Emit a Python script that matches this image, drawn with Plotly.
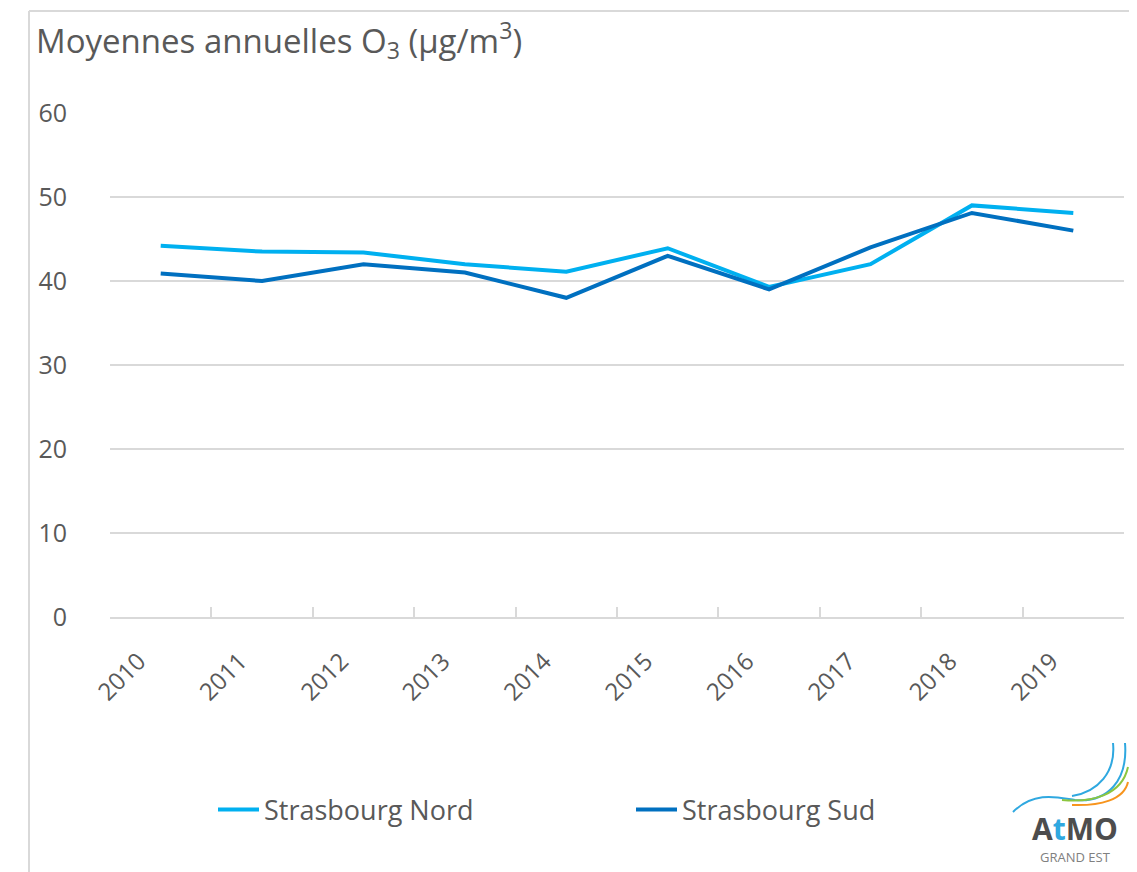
import plotly.graph_objects as go

years = ["2010", "2011", "2012", "2013", "2014", "2015", "2016", "2017", "2018", "2019"]
nord = [44.2, 43.5, 43.4, 42.0, 41.1, 43.9, 39.3, 42.0, 49.0, 48.1]
sud = [40.9, 40.0, 42.0, 41.0, 38.0, 43.0, 39.0, 44.0, 48.1, 46.0]
y_ticks = [0, 10, 20, 30, 40, 50, 60]

# page body has an 8px margin; work in reference pixel coords and shift
OFF = 8
W, H = 1137 - OFF, 872 - OFF
L, R, T, B = 110 - OFF, 13, 113 - OFF, 255
PW, PH = W - L - R, H - T - B


def px(x):
    return (x - OFF - L) / PW


def py(y):
    return (H - B - (y - OFF)) / PH


font_fam = "'Open Sans', sans-serif"
fig = go.Figure()
fig.add_trace(go.Scatter(x=years, y=nord, mode="lines", name="Strasbourg Nord",
                         line=dict(color="#00B0F0", width=4), legend="legend"))
fig.add_trace(go.Scatter(x=years, y=sud, mode="lines", name="Strasbourg Sud",
                         line=dict(color="#0070C0", width=4), legend="legend2"))

leg_common = dict(yanchor="middle", y=py(810), xanchor="left", bgcolor="rgba(0,0,0,0)",
                  itemwidth=41, font=dict(size=27, color="#595959", family=font_fam))

# rotated year labels, padded so their ends sit left of the category centre
tick_text = [y + "\u00a0" * 5 for y in years]

fig.update_layout(
    width=W, height=H,
    margin=dict(l=L, r=R, t=T, b=B),
    paper_bgcolor="white", plot_bgcolor="white",
    font=dict(family=font_fam, color="#595959", size=24),
    showlegend=True,
    legend=dict(x=px(213), **leg_common),
    legend2=dict(x=px(631), **leg_common),
    xaxis=dict(type="category", range=[-0.5, 9.5], tickson="boundaries",
               tickvals=years, ticktext=tick_text,
               ticks="inside", ticklen=10, tickcolor="#d9d9d9", tickwidth=1.5,
               showline=True, linecolor="#d9d9d9", linewidth=1.5,
               showgrid=False, tickangle=-45, ticklabelstandoff=-3,
               tickfont=dict(size=24, color="#595959")),
    yaxis=dict(range=[0, 60], tickvals=y_ticks, showgrid=True, gridcolor="#d9d9d9",
               gridwidth=1.5, zeroline=False, showline=False, ticks="",
               ticklabelstandoff=42, tickfont=dict(size=25, color="#595959")),
    title=dict(text="Moyennes annuelles O<sub>3</sub> (µg/m<sup>3</sup>)",
               x=(36 - OFF) / W, xanchor="left", xref="container",
               y=1 - (41 - OFF) / H, yanchor="middle", yref="container",
               font=dict(size=33, color="#595959", family=font_fam)),
)

# frame lines (left and top)
fig.add_shape(type="line", xref="paper", yref="paper", x0=px(29), x1=px(1137), y0=py(11), y1=py(11),
              line=dict(color="#d9d9d9", width=2))
fig.add_shape(type="line", xref="paper", yref="paper", x0=px(29), x1=px(29), y0=py(11), y1=py(872),
              line=dict(color="#d9d9d9", width=2))


# logo swooshes
def path(pts):
    s = "M {} {}".format(px(pts[0][0]), py(pts[0][1]))
    for i in range(1, len(pts), 3):
        a, b, c = pts[i], pts[i + 1], pts[i + 2]
        s += " C {} {}, {} {}, {} {}".format(px(a[0]), py(a[1]), px(b[0]), py(b[1]), px(c[0]), py(c[1]))
    return s


swooshes = [
    ([(1013, 812), (1035, 790), (1060, 798), (1075, 800), (1108, 803), (1128, 780), (1125, 743)], "#2FA8E0"),
    ([(1072, 796), (1098, 792), (1116, 772), (1113, 743)], "#2FA8E0"),
    ([(1062, 800), (1092, 803), (1122, 795), (1128, 767)], "#8CC63F"),
    ([(1072, 805), (1100, 806), (1124, 800), (1128, 782)], "#F7941D"),
]
for pts, col in swooshes:
    fig.add_shape(type="path", xref="paper", yref="paper", path=path(pts),
                  line=dict(color=col, width=2))

fig.add_annotation(xref="paper", yref="paper", x=px(1075), y=py(828), xanchor="center", yanchor="middle",
                   text="<b>A<span style='color:#2FA8E0'>t</span>MO</b>", showarrow=False,
                   font=dict(size=30, color="#4d4d4d", family=font_fam))
fig.add_annotation(xref="paper", yref="paper", x=px(1075), y=py(857), xanchor="center", yanchor="middle",
                   text="GRAND EST", showarrow=False,
                   font=dict(size=13, color="#808080", family=font_fam))

fig.write_html("out.html")
